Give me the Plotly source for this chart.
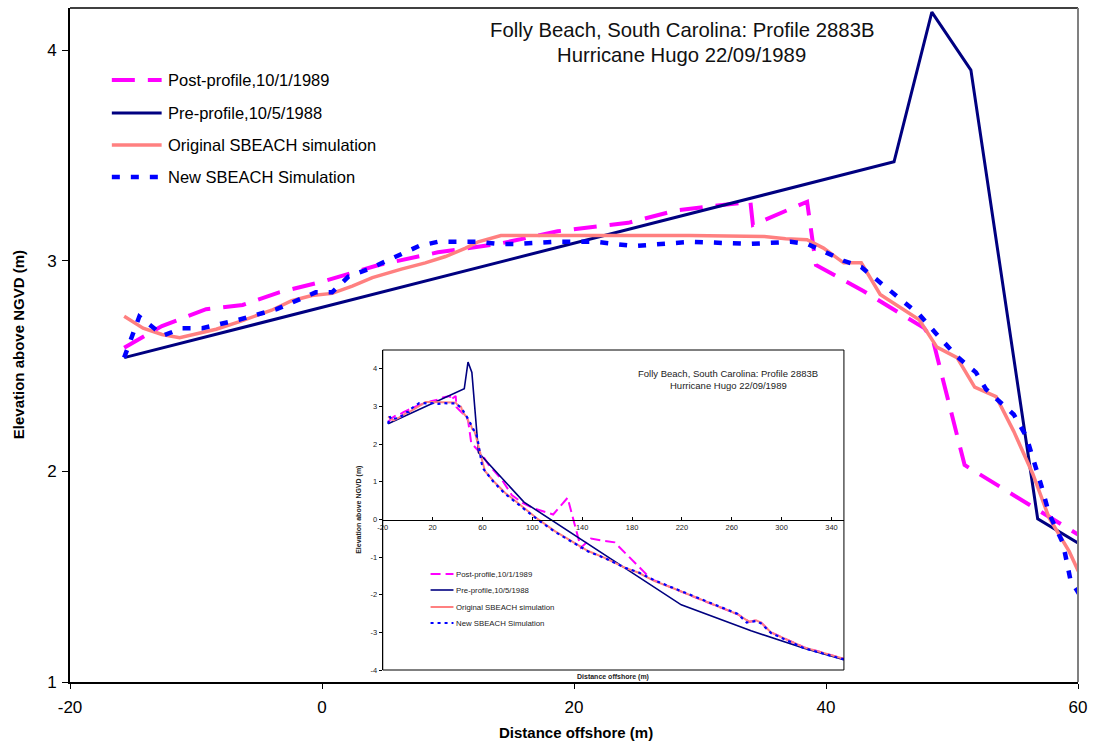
import plotly.graph_objects as go

# ---------------- profile data: distance offshore (m) vs elevation above NGVD (m) ----------------
pre_x = [-15.7, 45.4, 48.4, 51.5, 56.8, 93.3, 219.5, 275.5, 318.0, 350.0]
pre_y = [2.54, 3.47, 4.18, 3.905, 1.775, 0.46, -2.27, -2.96, -3.42, -3.73]

post_x = [-15.7, -12.7, -9.2, -6.3, -3.4, 0.0, 4.5, 9.2, 14.0, 18.7, 24.3, 28.2, 34.0, 34.2,
          38.5, 39.2, 43.0, 47.8, 48.5, 51.0, 60.0, 65.0, 75.5, 83.5, 92.5, 100.5, 116.7,
          128.3, 138.9, 147.0, 158.0, 166.0, 195.5, 211.5, 238.1, 264.8, 274.1, 279.5,
          283.5, 291.5, 318.1, 350.0]
post_y = [2.587, 2.69, 2.77, 2.79, 2.85, 2.90, 2.98, 3.04, 3.08, 3.14, 3.18, 3.24, 3.28, 3.17,
          3.28, 2.98, 2.855, 2.68, 2.62, 2.03, 1.70, 1.45, 1.06, 0.65, 0.43, 0.30, 0.13,
          0.575, -0.75, -0.51, -0.57, -0.61, -1.59, -1.81, -2.17, -2.52, -2.72, -2.68,
          -2.74, -3.00, -3.40, -3.70]

orig_x = [-15.7, -14.2, -12.7, -11.3, -8.4, -6.6, -4.0, -2.4, -0.8, 0.8, 2.4, 4.0, 6.3, 8.2,
          9.8, 11.4, 12.4, 14.2, 17.4, 20.3, 29.2, 35.1, 36.8, 38.5, 39.8, 41.4, 42.8, 44.3,
          45.8, 47.4, 48.8, 50.4, 51.8, 53.5, 54.9, 56.4, 57.7, 59.3, 60.0, 62.1, 68.8,
          78.1, 91.5, 104.8, 118.1, 131.5, 144.8, 158.1, 174.1, 184.8, 198.1, 211.5, 238.1,
          264.8, 274.1, 279.5, 283.5, 291.5, 318.1, 350.0]
orig_y = [2.736, 2.68, 2.65, 2.635, 2.675, 2.71, 2.765, 2.81, 2.835, 2.845, 2.88, 2.92, 2.96,
          2.99, 3.02, 3.06, 3.09, 3.12, 3.12, 3.12, 3.12, 3.115, 3.105, 3.10, 3.06, 2.99,
          2.99, 2.84, 2.78, 2.72, 2.59, 2.54, 2.40, 2.355, 2.19, 1.99, 1.78, 1.62, 1.53,
          1.28, 1.02, 0.71, 0.35, 0.0, -0.31, -0.57, -0.84, -1.02, -1.28, -1.41, -1.64,
          -1.81, -2.17, -2.52, -2.72, -2.68, -2.74, -3.00, -3.40, -3.70]

new_x = [-15.7, -14.5, -12.6, -11.1, -9.5, -6.6, -3.6, -0.5, 0.8, 2.1, 3.7, 6.3, 7.7, 9.2,
         12.4, 14.0, 15.6, 18.5, 21.7, 23.2, 24.8, 29.3, 34.0, 37.2, 38.5, 39.8, 41.4, 42.8,
         44.0, 45.6, 47.4, 48.8, 50.4, 51.9, 52.7, 54.9, 55.9, 57.1, 57.7, 58.8, 59.4, 61.0,
         68.8, 78.1, 91.5, 104.8, 118.1, 131.5, 144.8, 158.1, 174.1, 184.8, 198.1, 211.5,
         238.1, 264.8, 272.0, 279.5, 283.5, 291.5, 318.1, 350.0]
new_y = [2.54, 2.735, 2.645, 2.68, 2.68, 2.72, 2.77, 2.85, 2.85, 2.925, 2.96, 3.03, 3.07, 3.09,
         3.09, 3.08, 3.08, 3.09, 3.09, 3.08, 3.07, 3.09, 3.08, 3.09, 3.08, 3.045, 3.0, 2.97,
         2.91, 2.83, 2.745, 2.65, 2.545, 2.47, 2.39, 2.27, 2.165, 1.93, 1.80, 1.66, 1.485,
         1.33, 1.0, 0.68, 0.33, -0.02, -0.33, -0.58, -0.85, -1.03, -1.28, -1.40, -1.62,
         -1.80, -2.16, -2.51, -2.74, -2.70, -2.76, -3.02, -3.42, -3.72]

names = ["Post-profile,10/1/1989", "Pre-profile,10/5/1988",
         "Original SBEACH simulation", "New SBEACH Simulation"]
colors = ["#FF00FF", "#000080", "#FF8080", "#0000FF"]

main_x_ticks = [-20, 0, 20, 40, 60]
main_y_ticks = [1, 2, 3, 4]
inset_x_ticks = [-20, 20, 60, 100, 140, 180, 220, 260, 300, 340]
inset_y_ticks = [-4, -3, -2, -1, 0, 1, 2, 3, 4]

title_lines = ["Folly Beach, South Carolina: Profile 2883B", "Hurricane Hugo 22/09/1989"]


def tick_text(vals):
    # plain hyphen-minus labels
    return [str(v) for v in vals]


# ---------------- page geometry (pixels) ----------------
W, H = 1095, 742
L, R, T, B = 70, 1082, 8, 682          # main plot area
IL, IR, IT, IB = 384, 847, 350, 670    # inset plot area


def fx(p):
    return (p - L) / (R - L)


def fy(p):
    return (B - p) / (B - T)


FONT = "Arial, Liberation Sans, sans-serif"

series = [(post_x, post_y), (pre_x, pre_y), (orig_x, orig_y), (new_x, new_y)]
main_styles = [dict(width=4, dash="23px,13px"), dict(width=3), dict(width=3.5),
               dict(width=4.5, dash="8px,11px")]
inset_styles = [dict(width=2, dash="10px,5px"), dict(width=1.6), dict(width=2),
                dict(width=2.2, dash="3px,4px")]

fig = go.Figure()

for (xs, ys), nm, c, st in zip(series, names, colors, main_styles):
    fig.add_trace(go.Scatter(x=xs, y=ys, mode="lines", name=nm, showlegend=False,
                             line=dict(color=c, **st), xaxis="x", yaxis="y"))

for (xs, ys), nm, c, st in zip(series, names, colors, inset_styles):
    fig.add_trace(go.Scatter(x=xs, y=ys, mode="lines", name=nm, showlegend=False,
                             line=dict(color=c, **st), xaxis="x2", yaxis="y2"))

shapes = []
annotations = []

# frame edges of the main plot area
shapes.append(dict(type="line", xref="paper", yref="paper", x0=0, x1=1, y0=1, y1=1,
                   line=dict(color="black", width=1.5)))
shapes.append(dict(type="line", xref="paper", yref="paper", x0=1, x1=1, y0=0, y1=1,
                   line=dict(color="#808080", width=2)))

# inset background and frame
shapes.append(dict(type="rect", xref="paper", yref="paper", layer="below",
                   x0=fx(IL), x1=fx(IR), y0=fy(IB), y1=fy(IT),
                   fillcolor="white", line=dict(width=0)))
shapes.append(dict(type="rect", xref="paper", yref="paper",
                   x0=fx(IL), x1=fx(IR), y0=fy(IB), y1=fy(IT),
                   line=dict(color="black", width=1)))

# main legend
main_leg_y = [80, 113, 145, 177]
for yy, nm, c, st in zip(main_leg_y, names, colors, main_styles):
    shapes.append(dict(type="line", xref="paper", yref="paper",
                       x0=fx(112), x1=fx(162), y0=fy(yy), y1=fy(yy),
                       line=dict(color=c, **st)))
    annotations.append(dict(xref="paper", yref="paper", x=fx(166), y=fy(yy),
                            xanchor="left", yanchor="middle", showarrow=False, text=nm,
                            font=dict(family=FONT, size=16.5, color="black")))

# inset legend
inset_leg_y = [574, 590, 607, 623]
for yy, nm, c, st in zip(inset_leg_y, names, colors, inset_styles):
    shapes.append(dict(type="line", xref="paper", yref="paper",
                       x0=fx(432), x1=fx(455), y0=fy(yy), y1=fy(yy),
                       line=dict(color=c, **st)))
    annotations.append(dict(xref="paper", yref="paper", x=fx(456), y=fy(yy),
                            xanchor="left", yanchor="middle", showarrow=False, text=nm,
                            font=dict(family=FONT, size=7.8, color="#222")))

# main title
for yy, t in zip([30, 55], title_lines):
    annotations.append(dict(xref="paper", yref="paper", x=fx(684), y=fy(yy),
                            xanchor="center", yanchor="middle", showarrow=False, text=t,
                            font=dict(family=FONT, size=20.3, color="#111")))

# inset title
for yy, t in zip([373, 385], title_lines):
    annotations.append(dict(xref="paper", yref="paper", x=fx(731), y=fy(yy),
                            xanchor="center", yanchor="middle", showarrow=False, text=t,
                            font=dict(family=FONT, size=9.5, color="#222")))

# axis titles
annotations.append(dict(xref="paper", yref="paper", x=fx(578), y=fy(732),
                        xanchor="center", yanchor="middle", showarrow=False,
                        text="<b>Distance offshore (m)</b>",
                        font=dict(family=FONT, size=15, color="black")))
annotations.append(dict(xref="paper", yref="paper", x=fx(18), y=fy(345),
                        xanchor="center", yanchor="middle", showarrow=False, textangle=-90,
                        text="<b>Elevation above NGVD (m)</b>",
                        font=dict(family=FONT, size=15, color="black")))
annotations.append(dict(xref="paper", yref="paper", x=fx(360), y=fy(510),
                        xanchor="center", yanchor="middle", showarrow=False, textangle=-90,
                        text="<b>Elevation above NGVD (m)</b>",
                        font=dict(family=FONT, size=7, color="#222")))
annotations.append(dict(xref="paper", yref="paper", x=fx(615), y=fy(677),
                        xanchor="center", yanchor="middle", showarrow=False,
                        text="<b>Distance offshore (m)</b>",
                        font=dict(family=FONT, size=7, color="#222")))

fig.update_layout(
    width=W, height=H,
    margin=dict(l=L, r=W - R, t=T, b=H - B),
    paper_bgcolor="white", plot_bgcolor="white",
    showlegend=False,
    font=dict(family=FONT, color="black"),
    xaxis=dict(range=[-20, 60], tickvals=main_x_ticks, ticktext=tick_text(main_x_ticks),
               showgrid=False, zeroline=False,
               showline=True, linecolor="black", linewidth=2, ticks="outside", ticklen=5,
               tickwidth=1, tickcolor="black", ticklabelstandoff=4,
               tickfont=dict(family=FONT, size=17, color="black")),
    yaxis=dict(range=[1, 4.2], tickvals=main_y_ticks, ticktext=tick_text(main_y_ticks),
               showgrid=False, zeroline=False,
               showline=True, linecolor="black", linewidth=2, ticks="outside", ticklen=6,
               tickwidth=1, tickcolor="black", ticklabelstandoff=2,
               tickfont=dict(family=FONT, size=17, color="black")),
    xaxis2=dict(domain=[fx(IL), fx(IR)], range=[-20, 350], tickvals=inset_x_ticks,
                ticktext=tick_text(inset_x_ticks),
                anchor="free", position=fy(520), showgrid=False, zeroline=False,
                showline=True, linecolor="black", linewidth=1.2, ticks="inside", ticklen=3,
                tickcolor="black", tickfont=dict(family=FONT, size=7.5, color="#222")),
    yaxis2=dict(domain=[fy(IB), fy(IT)], range=[-4, 4.5], tickvals=inset_y_ticks,
                ticktext=tick_text(inset_y_ticks),
                anchor="x2", showgrid=False, zeroline=False, showline=True,
                linecolor="black", linewidth=1.2, ticks="outside", ticklen=3,
                tickcolor="black", tickfont=dict(family=FONT, size=7.5, color="#222")),
    shapes=shapes,
    annotations=annotations,
)

fig.write_html("out.html")
